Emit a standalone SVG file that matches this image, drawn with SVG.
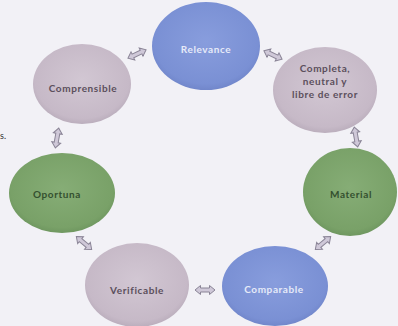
<svg xmlns="http://www.w3.org/2000/svg" width="398" height="326" viewBox="0 0 398 326">
  <defs>
    <radialGradient id="gBlue" cx="0.5" cy="0.45" r="0.6">
      <stop offset="0" stop-color="#889ddd"/>
      <stop offset="0.8" stop-color="#7a90d4"/>
      <stop offset="1" stop-color="#6b80c4"/>
    </radialGradient>
    <radialGradient id="gPink" cx="0.5" cy="0.45" r="0.6">
      <stop offset="0" stop-color="#d2c7d3"/>
      <stop offset="0.8" stop-color="#c6b9c7"/>
      <stop offset="1" stop-color="#b3a6b5"/>
    </radialGradient>
    <radialGradient id="gGreen" cx="0.5" cy="0.45" r="0.6">
      <stop offset="0" stop-color="#86ad76"/>
      <stop offset="0.8" stop-color="#79a168"/>
      <stop offset="1" stop-color="#68905a"/>
    </radialGradient>
    <path id="dbl" d="M-10,0 L-4.5,-4.5 L-4.5,-2 L4.5,-2 L4.5,-4.5 L10,0 L4.5,4.5 L4.5,2 L-4.5,2 L-4.5,4.5 Z"/>
  </defs>
  <style>
    .bg { fill: #f2f1f6; }
    .lbl { font-family: "Lato", "Open Sans", sans-serif; font-size: 10px; font-weight: bold; letter-spacing: 0.6px; text-anchor: middle; }
    .lb { fill: #e6eaf8; }
    .lp { fill: #5b4f5c; }
    .lg { fill: #34502f; }
    .arr use { fill: #cfc8d8; stroke: #8a8496; stroke-width: 1; }
  </style>
  <rect class="bg" x="0" y="0" width="398" height="326"/>
  <text x="0" y="139" font-family="Lato, sans-serif" font-size="9" fill="#333">s.</text>

  <g id="connectors" class="arr">
    <use href="#dbl" transform="translate(137,54) rotate(-25)"/>
    <use href="#dbl" transform="translate(273,55) rotate(25)"/>
    <use href="#dbl" transform="translate(57,138) rotate(-80)"/>
    <use href="#dbl" transform="translate(356,137) rotate(80)"/>
    <use href="#dbl" transform="translate(84,243) rotate(40)"/>
    <use href="#dbl" transform="translate(323,243) rotate(140)"/>
    <use href="#dbl" transform="translate(205,290)"/>
  </g>

  <g id="relevance">
    <ellipse cx="206" cy="46" rx="54" ry="44" fill="url(#gBlue)"/>
    <text class="lbl lb" x="206" y="53">Relevance</text>
  </g>
  <g id="comprensible">
    <ellipse cx="82" cy="84" rx="49" ry="40" fill="url(#gPink)"/>
    <text class="lbl lp" x="83" y="92">Comprensible</text>
  </g>
  <g id="completa">
    <ellipse cx="325" cy="90" rx="52" ry="43" fill="url(#gPink)"/>
    <text class="lbl lp" x="325" y="72">Completa,</text>
    <text class="lbl lp" x="325" y="85">neutral y</text>
    <text class="lbl lp" x="325" y="98">libre de error</text>
  </g>
  <g id="oportuna">
    <ellipse cx="62" cy="193" rx="53" ry="40" fill="url(#gGreen)"/>
    <text class="lbl lg" x="57" y="198">Oportuna</text>
  </g>
  <g id="material">
    <ellipse cx="350" cy="192" rx="47" ry="44" fill="url(#gGreen)"/>
    <text class="lbl lg" x="351" y="198">Material</text>
  </g>
  <g id="verificable">
    <ellipse cx="137" cy="285" rx="52" ry="42" fill="url(#gPink)"/>
    <text class="lbl lp" x="137" y="294">Verificable</text>
  </g>
  <g id="comparable">
    <ellipse cx="275" cy="286" rx="53" ry="40" fill="url(#gBlue)"/>
    <text class="lbl lb" x="274" y="293">Comparable</text>
  </g>
</svg>
